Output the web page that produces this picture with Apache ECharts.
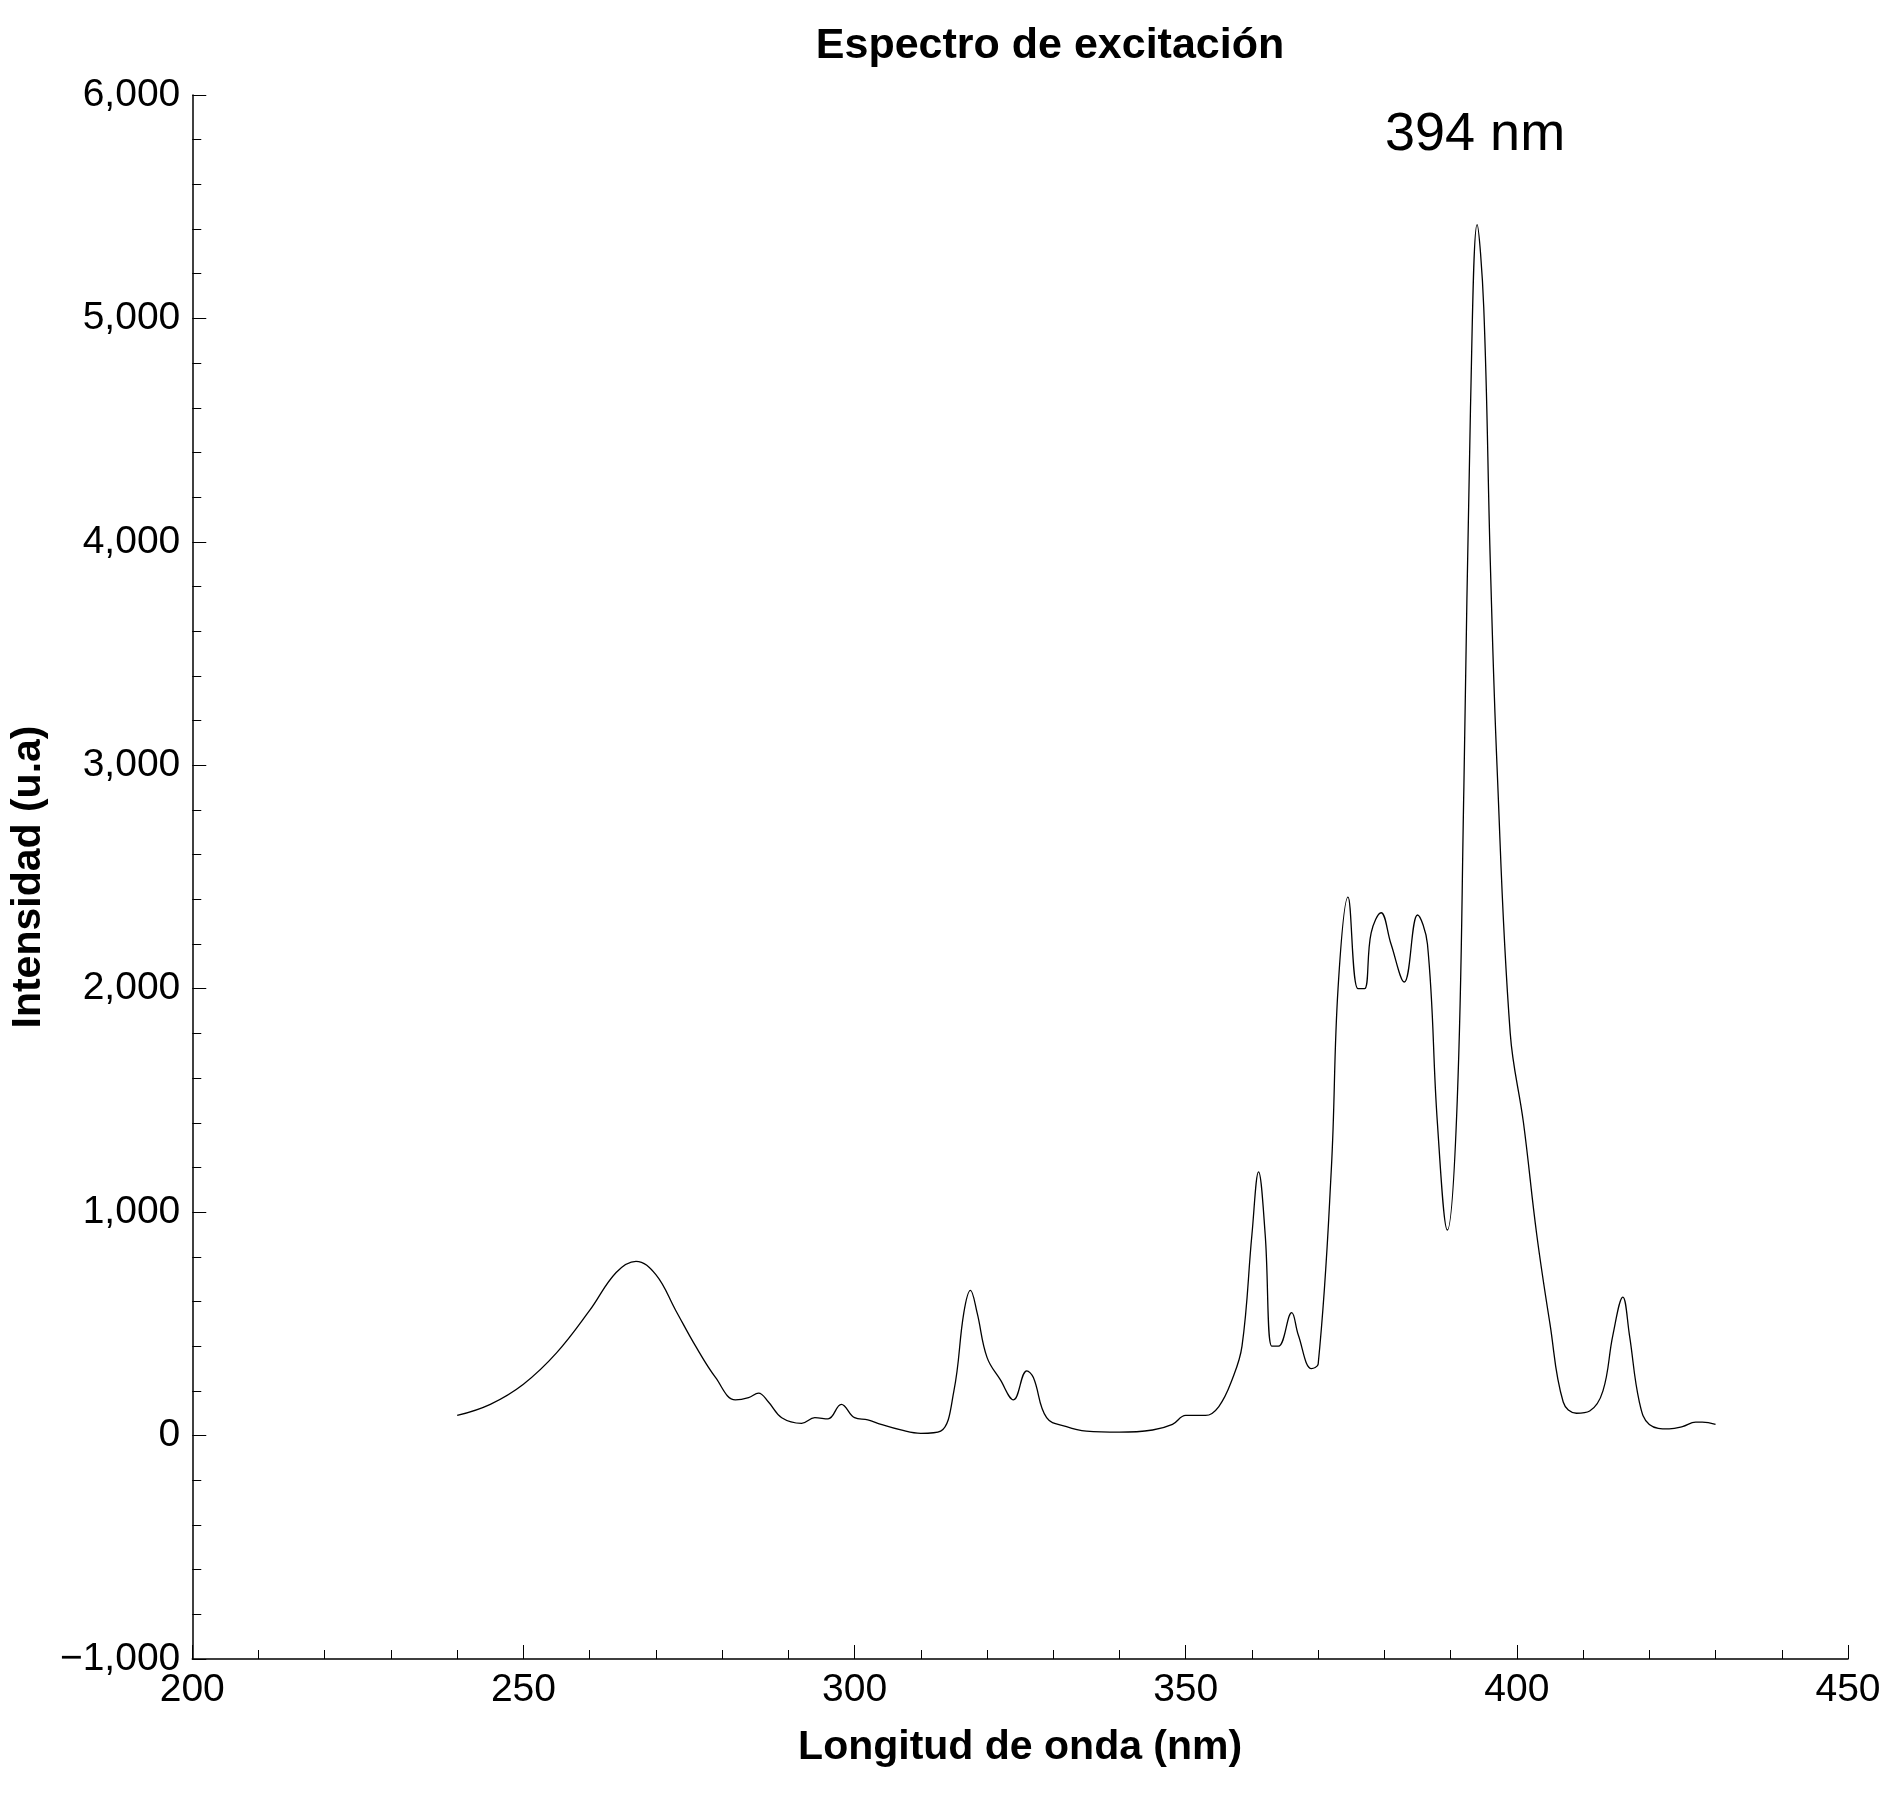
<!DOCTYPE html>
<html lang="es">
<head>
    <meta charset="UTF-8">
    <title>Espectro de excitación</title>
    <script src="https://cdn.jsdelivr.net/npm/echarts@6/dist/echarts.min.js"></script>
    <style>
        body { margin: 0; background: #fff; }
        #main { width: 1900px; height: 1800px; }
    </style>
</head>
<body>
<div id="main"></div>
<script>
    // wavelength (nm) and intensity (u.a)
    var wavelength = [240, 245, 250, 255, 260, 264, 267, 270, 273, 276, 279, 282, 284, 285.5, 287, 289, 292, 294, 296, 298,
        300, 302, 304, 307, 310, 313, 315, 316.5, 317.5, 318.5, 320, 322, 324, 326, 327, 329, 332, 335, 340, 345,
        348, 350, 353, 355, 357, 358.5, 360, 361, 362, 363, 364, 366, 367, 369, 370, 372, 373, 374.5, 376, 377,
        378, 379.5, 381, 383, 385, 386.5, 388, 389.5, 391, 392, 393, 394, 395, 396, 397, 399, 401, 403, 405, 407, 409, 411,
        413, 414.5, 416, 417, 418.5, 420, 423, 425, 427, 428, 430];
    var intensity = [90, 140, 230, 370, 560, 730, 780, 720, 560, 400, 260, 160, 170, 190, 150, 80, 55, 80, 75, 140,
        80, 70, 50, 25, 10, 20, 200, 550, 650, 550, 350, 250, 160, 290, 260, 80, 40, 20, 15, 25,
        50, 90, 90, 130, 250, 400, 900, 1180, 900, 400, 400, 550, 450, 300, 320, 1200, 2000, 2410, 2000, 2000,
        2250, 2340, 2200, 2030, 2330, 2200, 1400, 920, 1500, 2900, 4600, 5420, 5050, 3900, 3000, 1800, 1400, 900, 500, 150, 100, 110,
        200, 450, 620, 450, 150, 50, 30, 40, 60, 60, 50];

    var points = [];
    for (let i = 0; i < wavelength.length; i++) {
        points.push([wavelength[i], intensity[i]]);
    }

    var font = '"Liberation Sans", Arial, sans-serif';
    var myChart = echarts.init(document.getElementById('main'));
    var option = {
        backgroundColor: '#fff',
        animation: false,
        title: {
            text: 'Espectro de excitación',
            left: 1045, top: 20, textAlign: 'center',
            textStyle: { fontFamily: font, fontSize: 43, fontWeight: 'bold', color: '#000' }
        },
        graphic: [{
            type: 'text', left: 1385, top: 108,
            style: { text: '394 nm', fontFamily: font, fontSize: 54, fill: '#000' }
        }],
        grid: { left: 184, right: 52, top: 95, bottom: 141 },
        xAxis: {
            type: 'value', min: 200, max: 450, interval: 50,
            name: 'Longitud de onda (nm)', nameLocation: 'middle', nameGap: 68,
            nameTextStyle: { fontFamily: font, fontSize: 41, fontWeight: 'bold', color: '#000' },
            axisLine: { onZero: false, lineStyle: { color: '#000', width: 1.5 } },
            axisTick: { inside: true, length: 14, lineStyle: { color: '#000' } },
            minorTick: { show: true, splitNumber: 5, length: 9, lineStyle: { color: '#000' } },
            axisLabel: { fontFamily: font, fontSize: 39, color: '#000', margin: 12 },
            splitLine: { show: false }
        },
        yAxis: {
            type: 'value', min: -1000, max: 6000, interval: 1000,
            name: 'Intensidad (u.a)', nameLocation: 'middle', nameGap: 142,
            nameTextStyle: { fontFamily: font, fontSize: 41, fontWeight: 'bold', color: '#000' },
            axisLine: { show: true, lineStyle: { color: '#000', width: 1.5 } },
            axisTick: { show: true, inside: true, length: 14, lineStyle: { color: '#000' } },
            minorTick: { show: true, splitNumber: 5, length: 9, lineStyle: { color: '#000' } },
            axisLabel: {
                fontFamily: font, fontSize: 39, color: '#000', margin: 12,
                formatter: function (v) { return v < 0 ? '\u2212' + Math.abs(v).toLocaleString('en-US') : v.toLocaleString('en-US'); }
            },
            splitLine: { show: false }
        },
        series: [{
            type: 'line', data: points, smooth: 0.4, showSymbol: false,
            lineStyle: { color: '#000', width: 1.3 }
        }]
    };
    myChart.setOption(option);
</script>
</body>
</html>
